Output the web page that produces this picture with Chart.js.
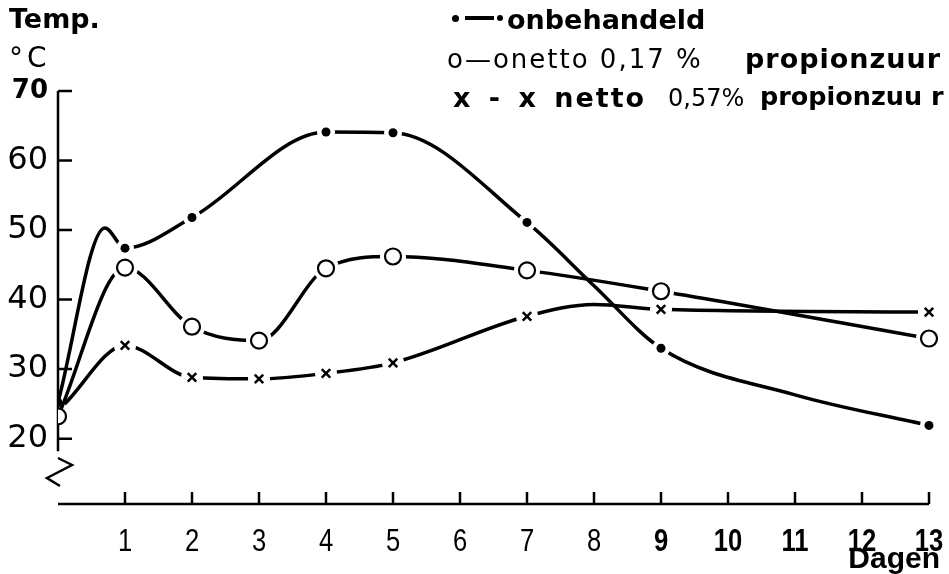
<!DOCTYPE html>
<html lang="nl">
<head>
<meta charset="UTF-8">
<title>Temperatuur</title>
<script src="https://cdn.jsdelivr.net/npm/chart.js"></script>
<style>
    body { margin: 0; background: #fff; overflow: hidden; }
    #wrap { position: relative; width: 949px; height: 574px; }
    canvas { display: block; }
    .t { position: absolute; white-space: nowrap; color: #000; line-height: 1; font-family: "DejaVu Sans", sans-serif; }
    .b { font-weight: bold; }
    .sym { position: absolute; background: #000; }
</style>
</head>
<body>
<div id="wrap">
    <canvas id="grafiek" width="949" height="574"></canvas>

    <div class="t b" style="left:9px; top:5px; font-size:27px;">Temp.</div>
    <div class="t" style="left:9px; top:44px; font-size:28px; letter-spacing:4px;">°C</div>

    <!-- legenda -->
    <div class="sym" style="left:452px; top:15px; width:7px; height:7px; border-radius:50%;"></div>
    <div class="sym" style="left:465px; top:16px; width:29px; height:4px;"></div>
    <div class="sym" style="left:497px; top:15px; width:6px; height:6px; border-radius:50%;"></div>
    <div class="t b" style="left:507px; top:6px; font-size:27px;">onbehandeld</div>
    <div class="t" style="left:447px; top:46px; font-size:26px; letter-spacing:2px;">o—onetto 0,17 %</div>
    <div class="t b" style="left:745px; top:45px; font-size:27px; letter-spacing:1px;">propionzuur</div>
    <div class="t b" style="left:453px; top:84px; font-size:27px; letter-spacing:2px; word-spacing:5px;">x - x netto</div>
    <div class="t" style="left:668px; top:86px; font-size:24px;">0,57%</div>
    <div class="t b" style="left:760px; top:84px; font-size:25.5px;">propionzuu r</div>

    <div class="t b" style="right:9px; top:543px; font-size:30px; font-family:'Liberation Sans',sans-serif;">Dagen</div>
</div>

<script>
    // dagen en temperaturen (°C)
    var dagenOnbehandeld = [0, 0.7, 1, 2, 4, 5, 7, 8, 9, 11, 13];
    var tempOnbehandeld = [25.2, 50.3, 47.4, 51.8, 64.1, 64.0, 51.1, 42.0, 33.0, 26.3, 21.9];
    var puntOnbehandeld = [4.5, 0, 4.5, 4.5, 4.5, 4.5, 4.5, 0, 4.5, 0, 4.5];

    var dagen017 = [0, 1, 2, 3, 4, 5, 7, 9, 13];
    var temp017 = [23.2, 44.6, 36.1, 34.1, 44.5, 46.2, 44.2, 41.2, 34.4];

    var dagen057 = [0.1, 1, 2, 3, 4, 5, 7, 8, 9, 13];
    var temp057 = [25.0, 33.4, 28.8, 28.6, 29.4, 30.9, 37.6, 39.3, 38.6, 38.2];
    var punt057 = [0, 6, 6, 6, 6, 6, 6, 0, 6, 6];

    var xTicks = [1, 2, 3, 4, 5, 6, 7, 8, 9, 10, 11, 12, 13];
    var yTicks = [20, 30, 40, 50, 60, 70];

    // witte ruimte rond de markeringen per reeks (de lijn is daar onderbroken)
    var halo = [9, 13, 11];

    function punten(xs, ys) {
        return xs.map(function (x, i) { return { x: x, y: ys[i] }; });
    }

    // lijn onderbreken rond de eigen markeringen, daarna markering opnieuw tekenen
    const onderbreking = {
        id: 'onderbreking',
        afterDatasetDraw(chart, args) {
            const ctx = chart.ctx;
            const r = halo[args.index];
            ctx.save();
            args.meta.data.forEach(function (pt, i) {
                if (i === 0 || pt.options.radius < 1) return;
                ctx.beginPath();
                ctx.fillStyle = '#fff';
                ctx.arc(pt.x, pt.y, r, 0, Math.PI * 2);
                ctx.fill();
                pt.draw(ctx, chart.chartArea);
            });
            ctx.restore();
        }
    };

    // assen met naar binnen gerichte streepjes, de asbreuk en smalle dag-labels
    const assen = {
        id: 'assen',
        beforeDatasetsDraw(chart) {
            const ctx = chart.ctx;
            const xs = chart.scales.x;
            const ys = chart.scales.y;
            const x0 = xs.getPixelForValue(0);
            const yb = ys.getPixelForValue(ys.min);
            ctx.save();
            ctx.strokeStyle = '#000';
            ctx.lineWidth = 2.5;
            ctx.beginPath();
            ctx.moveTo(x0, ys.getPixelForValue(70));
            ctx.lineTo(x0, ys.getPixelForValue(18.2));
            yTicks.forEach(function (v) {
                const p = ys.getPixelForValue(v);
                ctx.moveTo(x0, p);
                ctx.lineTo(x0 + 14, p);
            });
            ctx.moveTo(x0, yb);
            ctx.lineTo(xs.getPixelForValue(13), yb);
            xTicks.forEach(function (v) {
                const p = xs.getPixelForValue(v);
                ctx.moveTo(p, yb);
                ctx.lineTo(p, yb - 12);
            });
            ctx.stroke();
            // breuk
            ctx.beginPath();
            ctx.moveTo(x0, yb - 46);
            ctx.lineTo(x0 + 14, yb - 39);
            ctx.lineTo(x0 - 11, yb - 26);
            ctx.lineTo(x0 + 2, yb - 18);
            ctx.stroke();
            ctx.restore();
        },
        afterDraw(chart) {
            const ctx = chart.ctx;
            const xs = chart.scales.x;
            ctx.save();
            ctx.fillStyle = '#000';
            ctx.textAlign = 'center';
            ctx.textBaseline = 'alphabetic';
            xTicks.forEach(function (v) {
                ctx.save();
                ctx.font = (v >= 9 ? 'bold ' : '') + "32px 'Liberation Sans', sans-serif";
                ctx.translate(xs.getPixelForValue(v), 551);
                ctx.scale(0.8, 1);
                ctx.fillText(String(v), 0, 0);
                ctx.restore();
            });
            ctx.restore();
        }
    };

    new Chart(document.getElementById('grafiek'), {
        type: 'line',
        data: {
            datasets: [
                {
                    label: 'onbehandeld',
                    data: punten(dagenOnbehandeld, tempOnbehandeld),
                    borderColor: '#000',
                    backgroundColor: '#000',
                    borderWidth: 3.5,
                    pointStyle: 'circle',
                    pointRadius: puntOnbehandeld,
                    pointBorderWidth: 0,
                    cubicInterpolationMode: 'monotone',
                },
                {
                    label: 'netto 0,17% propionzuur',
                    data: punten(dagen017, temp017),
                    borderColor: '#000',
                    backgroundColor: '#fff',
                    borderWidth: 3.5,
                    pointStyle: 'circle',
                    pointRadius: 8,
                    pointBorderWidth: 2.2,
                    pointBorderColor: '#000',
                    pointBackgroundColor: '#fff',
                    cubicInterpolationMode: 'monotone',
                },
                {
                    label: 'netto 0,57% propionzuur',
                    data: punten(dagen057, temp057),
                    borderColor: '#000',
                    backgroundColor: '#000',
                    borderWidth: 3.5,
                    pointStyle: 'crossRot',
                    pointRadius: punt057,
                    pointBorderWidth: 2.5,
                    cubicInterpolationMode: 'monotone',
                },
            ],
        },
        options: {
            responsive: false,
            animation: false,
            layout: { padding: { top: 91, right: 20, left: 0, bottom: 0 } },
            plugins: {
                legend: { display: false },
                tooltip: { enabled: false },
            },
            scales: {
                x: {
                    type: 'linear',
                    min: 0,
                    max: 13,
                    afterBuildTicks: function (s) { s.ticks = xTicks.map(function (v) { return { value: v }; }); },
                    afterFit: function (s) { s.height = 70; },
                    grid: { display: false, drawTicks: false },
                    border: { display: false },
                    ticks: { display: false },
                },
                y: {
                    min: 10.6,
                    max: 70,
                    afterBuildTicks: function (s) { s.ticks = yTicks.map(function (v) { return { value: v }; }); },
                    afterFit: function (s) { s.width = 58; },
                    grid: { display: false, drawTicks: false },
                    border: { display: false },
                    ticks: {
                        color: '#000',
                        padding: 10,
                        font: function (c) {
                            var vet = c.tick && c.tick.value === 70;
                            return {
                                family: "'DejaVu Sans', sans-serif",
                                size: vet ? 26 : 32,
                                weight: vet ? 'bold' : 'normal',
                            };
                        },
                    },
                },
            },
        },
        plugins: [assen, onderbreking],
    });
</script>
</body>
</html>
